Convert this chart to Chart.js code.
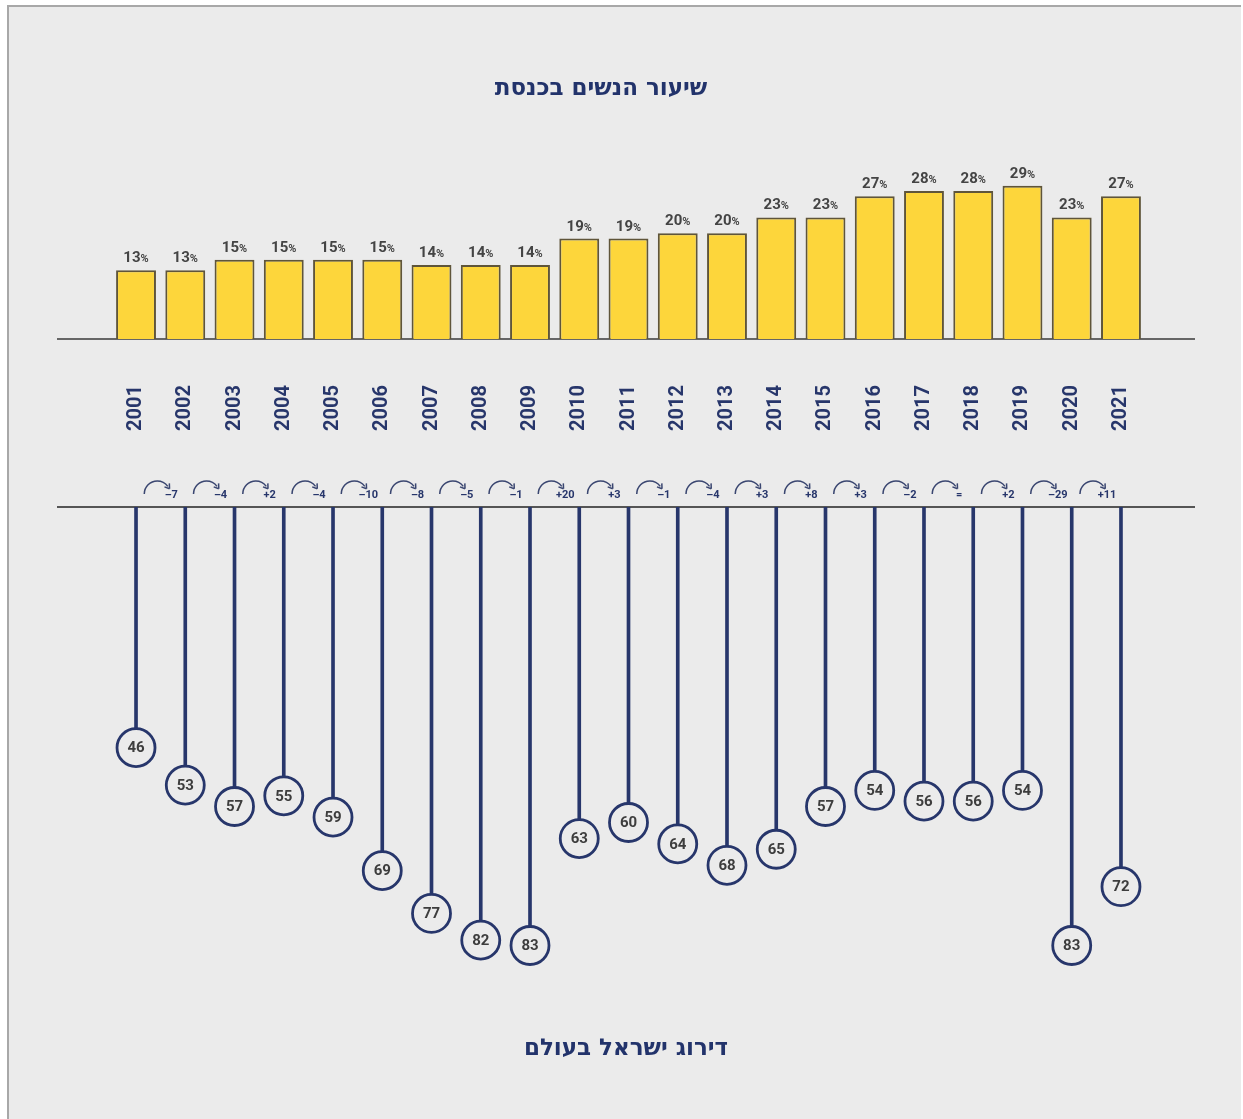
<!DOCTYPE html>
<html lang="he">
<head>
<meta charset="utf-8">
<script src="https://cdn.jsdelivr.net/npm/chart.js@4.4.0/dist/chart.umd.min.js"></script>
<style>
  html, body { margin: 0; padding: 0; background: #ffffff; }
  #frame {
    position: absolute; left: 7px; top: 5px; width: 1234px; height: 1120px;
    background: #ebebeb; border-left: 2px solid #a8a8a8; border-top: 2px solid #a8a8a8;
    box-sizing: border-box;
  }
  canvas { position: absolute; left: 0; }
  .title {
    position: absolute; direction: rtl; text-align: center;
    font-family: "DejaVu Sans", sans-serif; font-weight: bold; font-size: 23px;
    line-height: 28px; color: #22336b;
  }
</style>
</head>
<body>
<div id="frame"></div>
<canvas id="shareChart" width="1243" height="460" style="top:0"></canvas>
<canvas id="rankChart" width="1243" height="659" style="top:460px"></canvas>
<div class="title" style="left:0; width:1202px; top:73px;">שיעור הנשים בכנסת</div>
<div class="title" style="left:126px; width:1000px; top:1033px;">דירוג ישראל בעולם</div>

<script>
const years = ['2001','2002','2003','2004','2005','2006','2007','2008','2009','2010','2011',
  '2012','2013','2014','2015','2016','2017','2018','2019','2020','2021'];
// percent of women in the Knesset
const womenShare = [13,13,15,15,15,15,14,14,14,19,19,20,20,23,23,27,28,28,29,23,27];
// Israel's world ranking
const worldRank = [46,53,57,55,59,69,77,82,83,63,60,64,68,65,57,54,56,56,54,83,72];
// change labels as printed (first year has none)
const rankChange = ['','–7','–4','+2','–4','–10','–8','–5','–1','+20','+3','–1','–4','+3','+8','+3','–2','=','+2','–29','+11'];

const navy = '#27366b';
const bg = '#ebebeb';

// long axis line, wider than the plot area
function baseline(yValue, color) {
  return {
    id: 'baseline' + yValue,
    beforeDatasetsDraw(chart) {
      const ctx = chart.ctx;
      const y = chart.scales.y.getPixelForValue(yValue);
      ctx.save();
      ctx.strokeStyle = color;
      ctx.lineWidth = 2;
      ctx.beginPath();
      ctx.moveTo(57, y);
      ctx.lineTo(1195, y);
      ctx.stroke();
      ctx.restore();
    }
  };
}

const barLabels = {
  id: 'barLabels',
  afterDatasetsDraw(chart) {
    const ctx = chart.ctx;
    const meta = chart.getDatasetMeta(0);
    ctx.save();
    ctx.fillStyle = '#444';
    ctx.textBaseline = 'alphabetic';
    meta.data.forEach((bar, i) => {
      const num = String(womenShare[i]);
      ctx.font = 'bold 15px Roboto';
      const w1 = ctx.measureText(num).width;
      ctx.font = 'bold 11px Roboto';
      const w2 = ctx.measureText('%').width;
      const x0 = bar.x - (w1 + w2) / 2;
      ctx.font = 'bold 15px Roboto';
      ctx.textAlign = 'left';
      ctx.fillText(num, x0, bar.y - 8);
      ctx.font = 'bold 11px Roboto';
      ctx.fillText('%', x0 + w1, bar.y - 8);
    });
    ctx.restore();
  }
};

new Chart(document.getElementById('shareChart'), {
  type: 'bar',
  data: {
    labels: years,
    datasets: [{
      data: womenShare,
      backgroundColor: '#fdd63b',
      borderColor: '#5f553a',
      borderWidth: 2,
      borderSkipped: 'bottom',
      categoryPercentage: 1,
      barPercentage: 0.81
    }]
  },
  options: {
    responsive: false,
    animation: false,
    events: [],
    layout: { padding: { left: 111.4, right: 97.4, top: 154, bottom: 0 } },
    plugins: { legend: { display: false }, tooltip: { enabled: false } },
    scales: {
      x: {
        grid: { display: false, drawTicks: false },
        border: { display: false },
        afterFit(scale) { scale.height = 121; },
        ticks: {
          autoSkip: false, minRotation: 90, maxRotation: 90, padding: 46,
          color: navy, font: { family: 'Roboto', weight: 'bold', size: 20 }
        }
      },
      y: { display: false, min: 0, max: 35 }
    }
  },
  plugins: [baseline(0, '#666'), barLabels]
});

// circled ranks and the curved change arrows
const rankMarks = {
  id: 'rankMarks',
  afterDatasetsDraw(chart) {
    const ctx = chart.ctx;
    const meta = chart.getDatasetMeta(0);
    ctx.save();
    ctx.fillStyle = '#3d3d3d';
    ctx.font = 'bold 15px Roboto';
    ctx.textAlign = 'center';
    ctx.textBaseline = 'middle';
    meta.data.forEach((pt, i) => ctx.fillText(String(worldRank[i]), pt.x, pt.y + 1));

    const yTop = chart.scales.y.getPixelForValue(1);
    const xs = chart.scales.x;
    rankChange.forEach((txt, i) => {
      if (!txt) return;
      const x = xs.getPixelForValue(i);
      const cx = x - 28, cy = yTop - 13, r = 13;
      const end = 1.8 * Math.PI;
      ctx.strokeStyle = '#3a4670';
      ctx.lineWidth = 1.5;
      ctx.beginPath();
      ctx.arc(cx, cy, r, Math.PI, end);
      ctx.stroke();
      const ex = cx + r * Math.cos(end), ey = cy + r * Math.sin(end);
      const tx = -Math.sin(end), ty = Math.cos(end);
      const nx = -ty, ny = tx;
      ctx.beginPath();
      ctx.moveTo(ex + tx * 3, ey + ty * 3);
      ctx.lineTo(ex - tx * 1.5 + nx * 3, ey - ty * 1.5 + ny * 3);
      ctx.moveTo(ex + tx * 3, ey + ty * 3);
      ctx.lineTo(ex - tx * 1.5 - nx * 3, ey - ty * 1.5 - ny * 3);
      ctx.stroke();
      ctx.fillStyle = navy;
      ctx.font = 'bold 11px Roboto';
      ctx.fillText(txt, x - 14, yTop - 12);
    });
    ctx.restore();
  }
};

new Chart(document.getElementById('rankChart'), {
  data: {
    labels: years,
    datasets: [
      {
        type: 'line',
        data: worldRank,
        showLine: false,
        pointRadius: 19,
        pointBorderWidth: 2.8,
        pointBackgroundColor: bg,
        pointBorderColor: navy,
        order: 0
      },
      {
        type: 'bar',
        data: worldRank,
        backgroundColor: navy,
        barThickness: 3,
        order: 1
      }
    ]
  },
  options: {
    responsive: false,
    animation: false,
    events: [],
    layout: { padding: { left: 111.4, right: 97.4, top: 47, bottom: 120 } },
    plugins: { legend: { display: false }, tooltip: { enabled: false } },
    scales: {
      x: { display: false },
      y: { display: false, reverse: true, min: 1, max: 93 }
    }
  },
  plugins: [baseline(1, '#555'), rankMarks]
});
</script>
</body>
</html>
